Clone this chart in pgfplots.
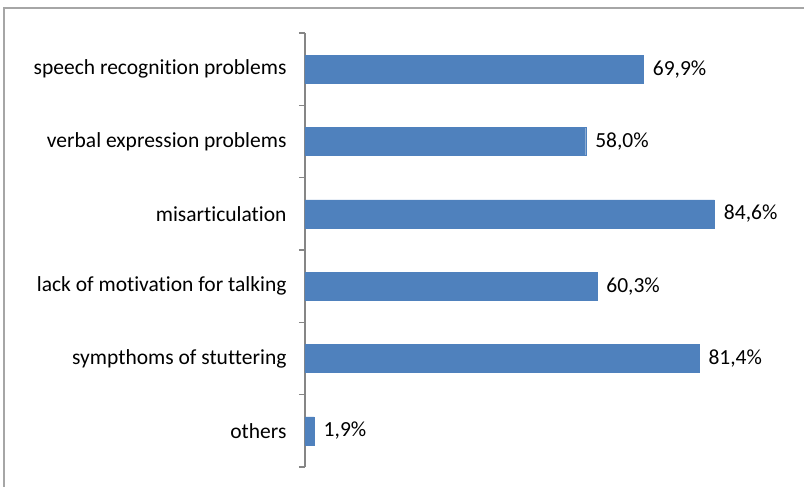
\documentclass[border=0pt]{standalone}
\usepackage{pgfplots}
\pgfplotsset{compat=1.18}
\usepackage{fontspec}
\setmainfont[Ligatures={NoCommon}]{Carlito}
\definecolor{barblue}{HTML}{4F81BD}
\definecolor{axisgrey}{HTML}{868686}
\definecolor{framegrey}{HTML}{A6A6A6}

\pgfplotstableread{
pos value
1 1.9
2 81.4
3 60.3
4 84.6
5 58.0
6 69.9
}\symptoms

\begin{document}
\begin{tikzpicture}[x=1pt,y=1pt]
\useasboundingbox (0,0) rectangle (804,487);
% outer chart frame
\draw[framegrey,line width=1.2pt] (4,0) -- (4,479) -- (804,479);
\begin{axis}[
  at={(305pt,20pt)}, anchor=south west,
  scale only axis,
  width=484pt, height=434pt,
  xmin=0, xmax=100,
  ymin=0.5, ymax=6.5,
  axis x line=none,
  axis y line*=left,
  axis line style={axisgrey,line width=1.2pt,-},
  xbar, bar width=28pt,
  ytick={1,...,6},
  yticklabels={others,sympthoms of stuttering,lack of motivation for talking,misarticulation,verbal expression problems,speech recognition problems},
  major tick length=0pt,
  minor ytick={0.5,1.5,...,6.5},
  minor tick length=6pt,
  tick align=outside,
  minor tick style={axisgrey,line width=1.2pt},
  yticklabel style={font=\fontsize{21.5}{24}\selectfont, xshift=-15pt},
  nodes near coords={\pgfmathprintnumber[fixed,fixed zerofill,precision=1,use comma,assume math mode=true]{\pgfplotspointmeta}\%},
  nodes near coords align={horizontal},
  every node near coord/.append style={font=\fontsize{21.5}{24}\selectfont, anchor=west, xshift=6pt, text=black},
]
\addplot[fill=barblue, draw=barblue] table[x=value,y=pos] {\symptoms};
\end{axis}
\end{tikzpicture}
\end{document}
